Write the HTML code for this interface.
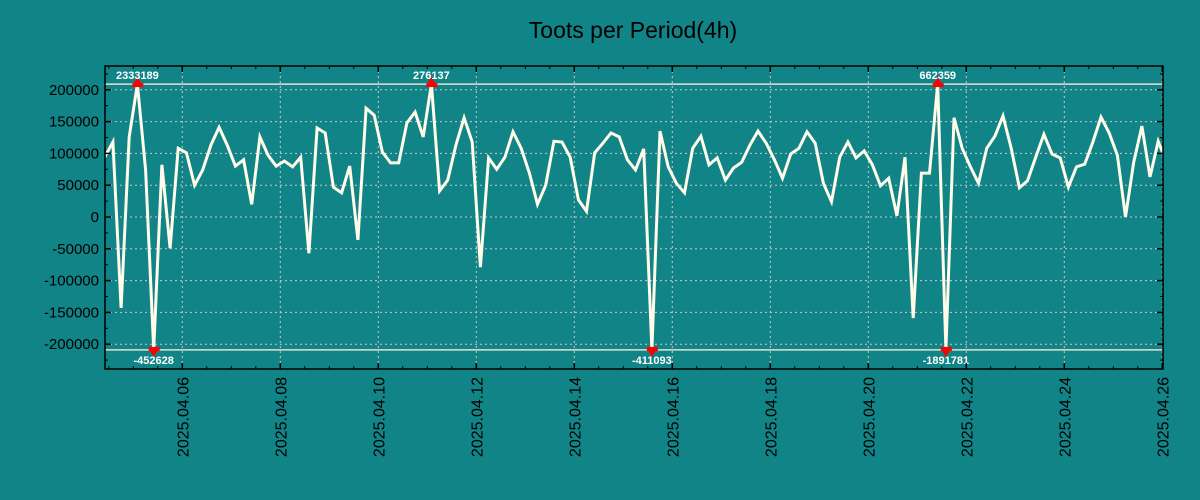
<!DOCTYPE html>
<html><head><meta charset="utf-8"><style>
html,body{margin:0;padding:0;background:#118488;}
svg{display:block;font-family:"Liberation Sans","DejaVu Sans",sans-serif;}
</style></head><body>
<svg id="chart" width="1200" height="500" viewBox="0 0 1200 500">
<rect x="0" y="0" width="1200" height="500" fill="#118488"/>
<text x="633" y="38" text-anchor="middle" font-size="23" fill="#000">Toots per Period(4h)</text>
<g id="grid"></g>
<g id="clip"></g>
<g id="series"></g>
<g id="marks"></g>
<rect x="105" y="66" width="1058" height="303" fill="none" stroke="#000" stroke-width="1.5"/>
<g id="axes"></g>
</svg>
<script>
// period index (4h each) starting 2025-04-04 10:00
const startHour = -38; // hours relative to 2025-04-06 00:00
const values = [94000,118000,-143000,126000,2333189,74000,-452628,82000,-49000,108000,
101000,50000,74000,113000,141000,113000,80000,90000,20000,126000,
97000,80000,88000,79000,94000,-57000,140000,132000,47000,38000,
80000,-36000,171000,160000,102000,85000,85000,148000,165000,126000,
276137,41000,58000,113000,156000,118000,-79000,93000,75000,94000,
134000,108000,69000,20000,50000,119000,118000,94000,27000,9000,
101000,116000,132000,126000,90000,74000,107000,-411093,135000,79000,
53000,38000,108000,127000,82000,93000,58000,77000,86000,113000,
135000,116000,90000,61000,99000,108000,134000,116000,53000,24000,
94000,118000,93000,104000,82000,49000,61000,2000,94000,-159000,
69000,69000,662359,-1891781,156000,108000,79000,53000,108000,127000,
159000,108000,46000,57000,94000,130000,99000,93000,47000,79000,
83000,118000,157000,132000,97000,0,86000,143000,63000,119000,86000];
const yTicks = [200000,150000,100000,50000,0,-50000,-100000,-150000,-200000];
const xTickLabels = ["2025.04.06","2025.04.08","2025.04.10","2025.04.12","2025.04.14","2025.04.16","2025.04.18","2025.04.20","2025.04.22","2025.04.24","2025.04.26"];
const clipMax = 209000, clipMin = -209000;

const L=105,R=1163,T=66,B=369;
const NS="http://www.w3.org/2000/svg";
function yS(v){return 217 - v*0.000636;}
function xS(h){return 182.3 + h/24*49;}
function mk(tag,attrs,parent,text){const e=document.createElementNS(NS,tag);for(const k in attrs)e.setAttribute(k,attrs[k]);if(text!==undefined)e.textContent=text;parent.appendChild(e);return e;}
const grid=document.getElementById('grid'),axes=document.getElementById('axes'),series=document.getElementById('series'),marks=document.getElementById('marks'),clip=document.getElementById('clip');

yTicks.forEach(v=>{const y=yS(v);
 const g=mk('line',{x1:L,x2:R,y1:y,y2:y,stroke:'#c8c8c8','stroke-width':1,'stroke-dasharray':'2,3'},grid);
 
 
 const t=mk('text',{x:99,y:y+5,'text-anchor':'end','font-size':15,fill:'#000'},axes,String(v));
 
 
 mk('line',{x1:L,x2:L+6,y1:y,y2:y,stroke:'#000','stroke-width':1.5},axes);
 mk('line',{x1:R,x2:R-6,y1:y,y2:y,stroke:'#000','stroke-width':1.5},axes);
});
for(let v=-225000;v<=225000;v+=50000){const y=yS(v);if(y<T||y>B)continue;
 mk('line',{x1:L,x2:L+3,y1:y,y2:y,stroke:'#000','stroke-width':1},axes);
 mk('line',{x1:R,x2:R-3,y1:y,y2:y,stroke:'#000','stroke-width':1},axes);}
xTickLabels.forEach((lab,i)=>{const x=xS(i*48);
 const g=mk('line',{x1:x,x2:x,y1:T,y2:B,stroke:'#c8c8c8','stroke-width':1,'stroke-dasharray':'2,3'},grid);
 
 
 mk('line',{x1:x,x2:x,y1:B,y2:B-6,stroke:'#000','stroke-width':1.5},axes);
 mk('line',{x1:x,x2:x,y1:T,y2:T+6,stroke:'#000','stroke-width':1.5},axes);
 const t=mk('text',{x:0,y:0,'text-anchor':'end','font-size':16,fill:'#000',transform:`translate(${x+6},${B+8}) rotate(-90)`},axes,lab);
 
 
});
for(let h=-36;h<=480;h+=12){const x=xS(h);if(x<L||x>R)continue;
 mk('line',{x1:x,x2:x,y1:B,y2:B-3,stroke:'#000','stroke-width':1},axes);
 mk('line',{x1:x,x2:x,y1:T,y2:T+3,stroke:'#000','stroke-width':1},axes);}

[clipMax,clipMin].forEach(v=>{const l=mk('line',{x1:L,x2:R,y1:yS(v),y2:yS(v),stroke:'#e8e0d0','stroke-width':1.5},clip);
 
 });

mk('clipPath',{id:'pc'},document.getElementById('chart'));
mk('rect',{x:L,y:T,width:R-L,height:B-T},document.getElementById('pc'));
const pts=values.map((v,i)=>[xS(startHour+4*i),yS(Math.max(clipMin,Math.min(clipMax,v)))]);
const line=mk('polyline',{points:pts.map(p=>p[0].toFixed(1)+','+p[1].toFixed(1)).join(' '),fill:'none',stroke:'#fffbe8','stroke-width':3,'stroke-linejoin':'miter','clip-path':'url(#pc)'},series);



values.forEach((v,i)=>{const x=xS(startHour+4*i);
 if(v>clipMax){const y=yS(clipMax);
  const m=mk('path',{d:`M${x-5},${y+1}L${x+5},${y+1}L${x},${y-7}Z`,fill:'#f00'},marks);
  
  
  mk('rect',{x:x-5,y:y-1,width:11,height:4,fill:'#f00'},marks);
  const t=mk('text',{x:x,y:y-5,'text-anchor':'middle','font-size':11,'font-weight':'bold',fill:'#fff'},marks,String(v));
  
  }
 else if(v<clipMin){const y=yS(clipMin);
  const m=mk('path',{d:`M${x-5},${y-1}L${x+5},${y-1}L${x},${y+7}Z`,fill:'#f00'},marks);
  
  
  mk('rect',{x:x-5,y:y-3,width:11,height:4,fill:'#f00'},marks);
  const t=mk('text',{x:x,y:y+14,'text-anchor':'middle','font-size':11,'font-weight':'bold',fill:'#fff'},marks,String(v));
  
  }
});
</script>
</body></html>
